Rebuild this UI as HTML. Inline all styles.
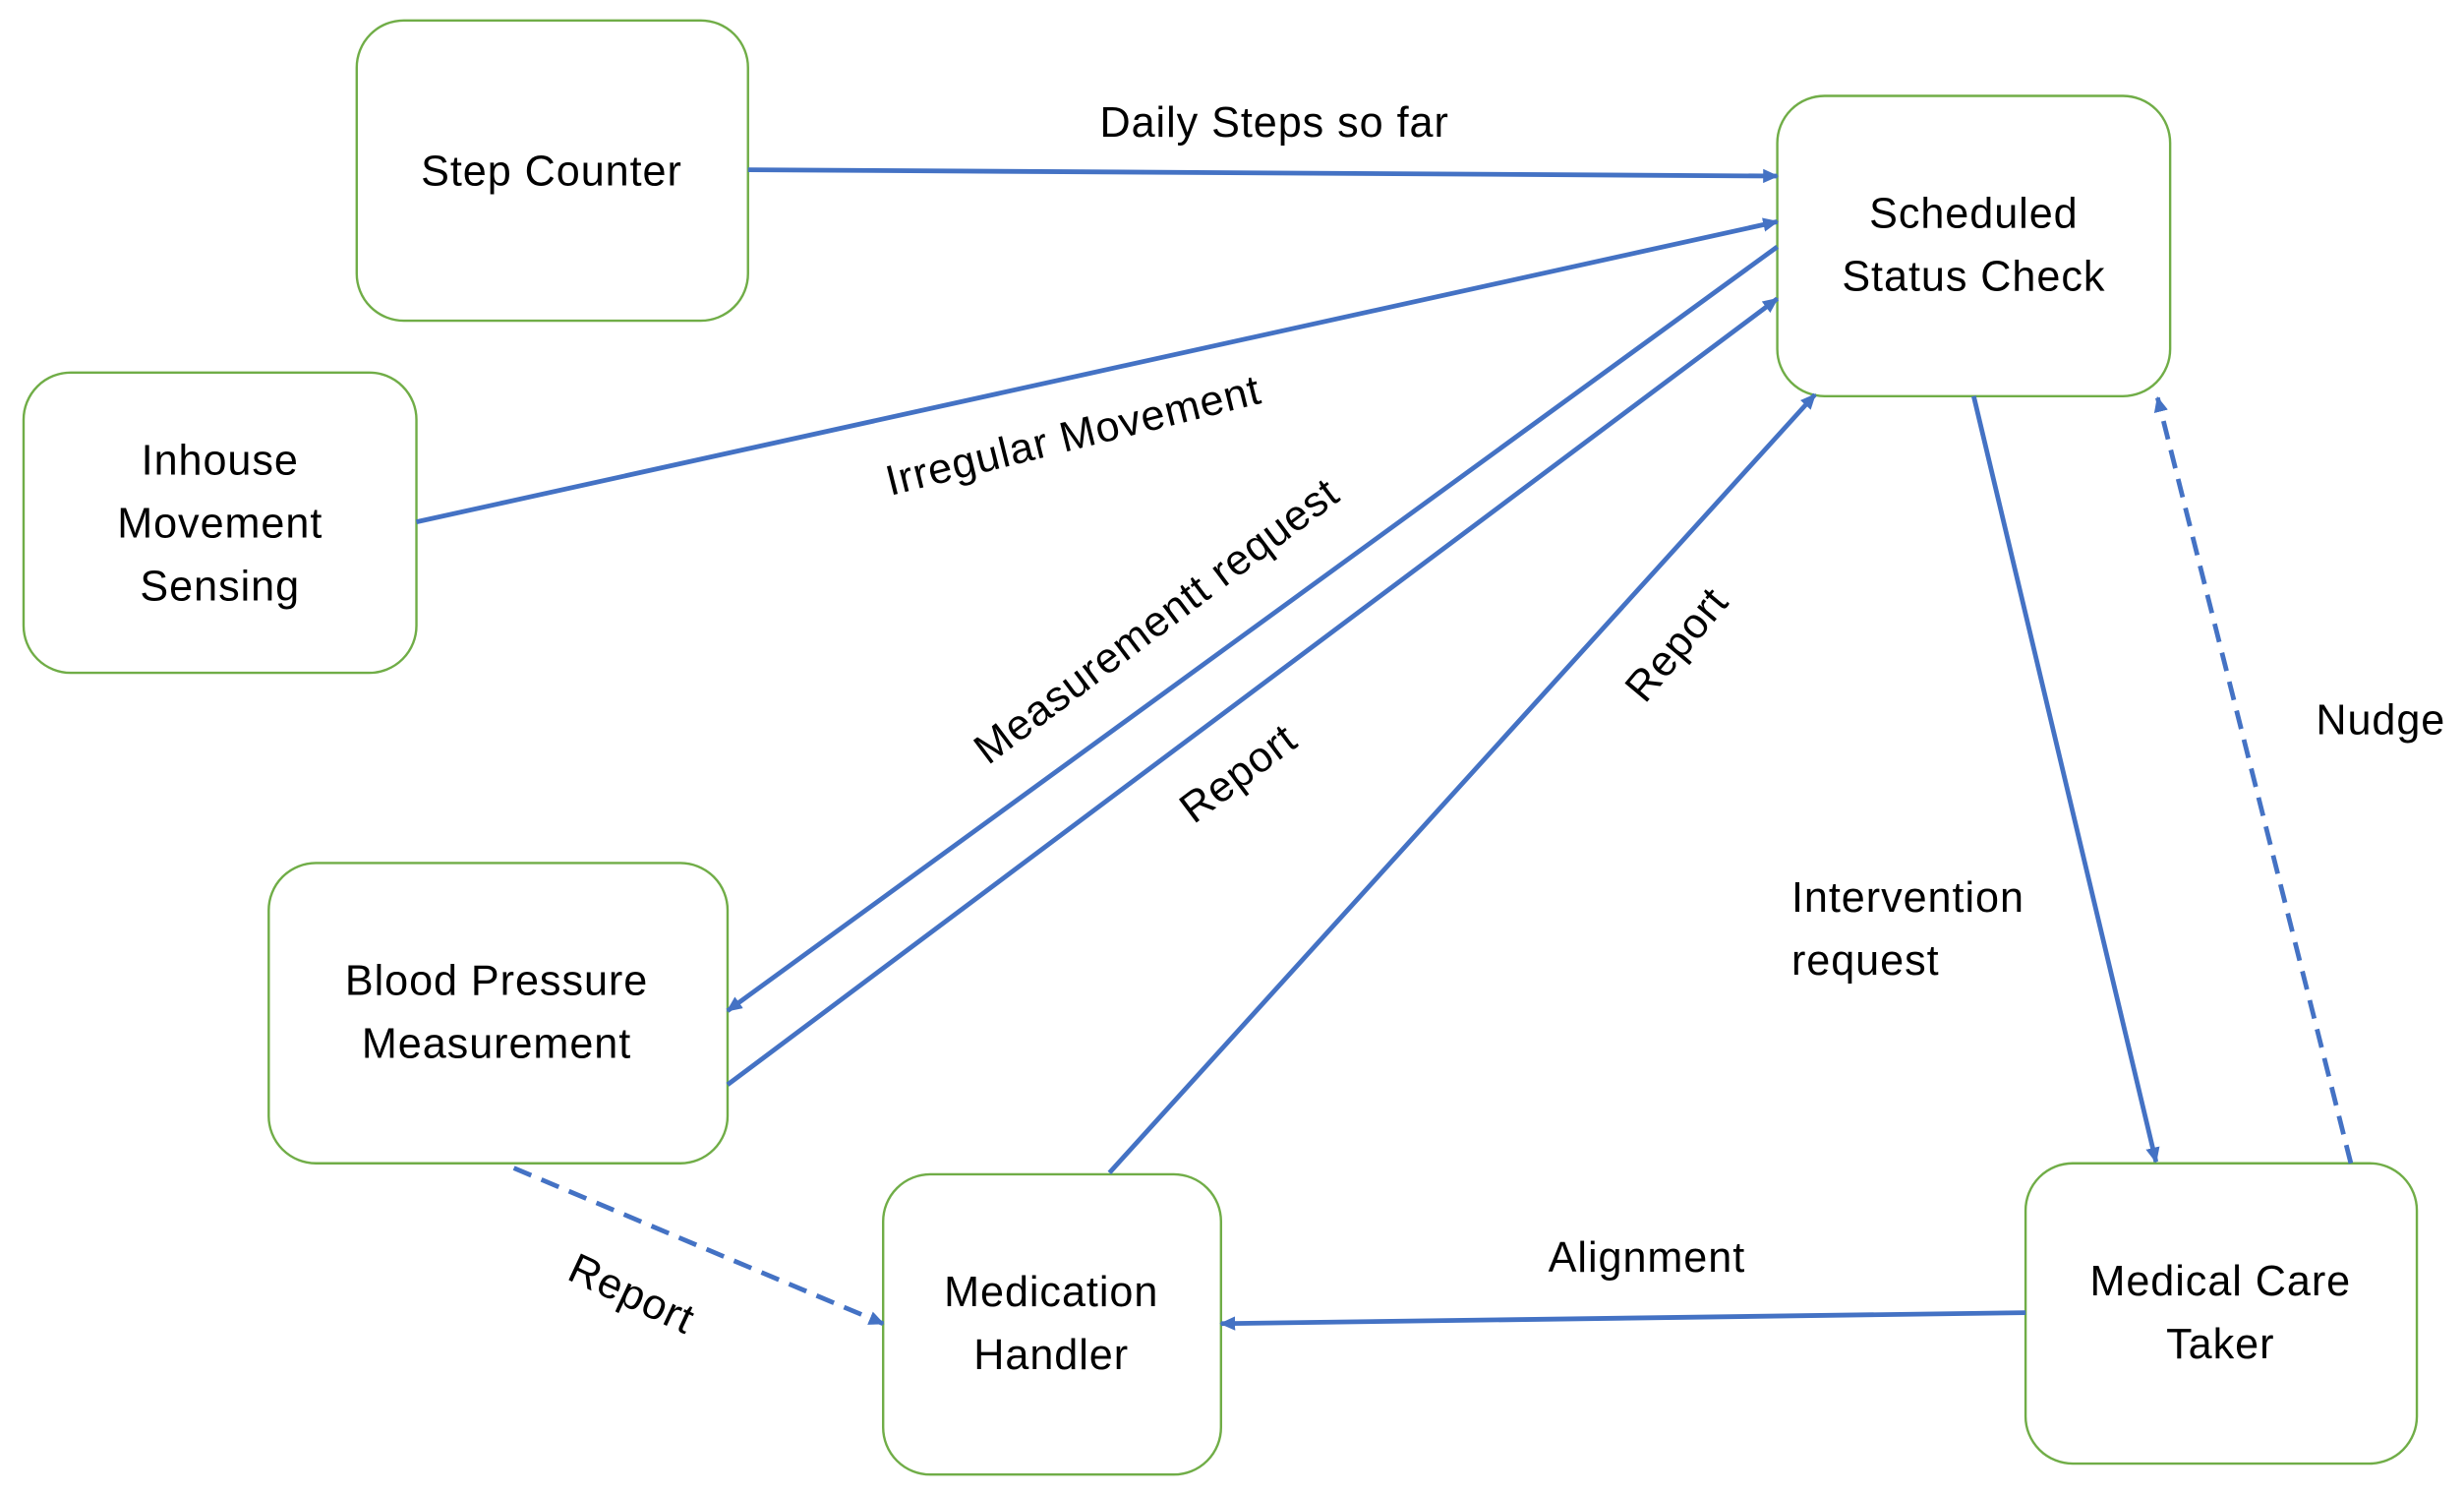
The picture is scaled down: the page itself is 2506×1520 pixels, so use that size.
<!DOCTYPE html>
<html><head><meta charset="utf-8"><style>html,body{margin:0;padding:0;background:#fff}svg{display:block}</style></head>
<body>
<svg width="2506" height="1520" viewBox="0 0 1568 951" preserveAspectRatio="none" xmlns="http://www.w3.org/2000/svg">
<defs>
<marker id="a" markerWidth="10" markerHeight="9" refX="9" refY="4.5" orient="auto" markerUnits="userSpaceOnUse"><path d="M0,0 L10,4.5 L0,9 Z" fill="#4472C4"/></marker>
</defs>
<g fill="#fff" stroke="#70AD47" stroke-width="1.5">
<rect x="227" y="13" width="249" height="191" rx="30"/>
<rect x="15" y="237" width="250" height="191" rx="30"/>
<rect x="1131" y="61" width="250" height="191" rx="30"/>
<rect x="171" y="549" width="292" height="191" rx="30"/>
<rect x="562" y="747" width="215" height="191" rx="30"/>
<rect x="1289" y="740" width="249" height="191" rx="30"/>
</g>
<g stroke="#4472C4" stroke-width="3" fill="none" marker-end="url(#a)">
<line x1="476" y1="108" x2="1131" y2="112"/>
<line x1="265" y1="332" x2="1131" y2="141"/>
<line x1="1131" y1="157" x2="463" y2="643"/>
<line x1="463" y1="690" x2="1131" y2="190"/>
<line x1="706" y1="746" x2="1155" y2="251"/>
<line x1="1256" y1="252" x2="1372" y2="739"/>
<line x1="1496" y1="740" x2="1373" y2="253" stroke-dasharray="12,7"/>
<line x1="1289" y1="835" x2="777" y2="842"/>
<line x1="327" y1="743" x2="562" y2="842" stroke-dasharray="12,7"/>
</g>
<g font-family="Liberation Sans, sans-serif" font-size="27" letter-spacing="0.6" fill="#000" text-anchor="middle">
<text x="351" y="118">Step Counter</text>
<text x="140" y="302">Inhouse</text><text x="140" y="342">Movement</text><text x="140" y="382">Sensing</text>
<text x="1256" y="145">Scheduled</text><text x="1256" y="185">Status Check</text>
<text x="316" y="633">Blood Pressure</text><text x="316" y="673">Measurement</text>
<text x="669" y="831">Medication</text><text x="669" y="871">Handler</text>
<text x="1413" y="824">Medical Care</text><text x="1413" y="864">Taker</text>
<text x="811" y="87">Daily Steps so far</text>
<text x="683" y="286" transform="rotate(-14 683 277)">Irregular Movement</text>
<text x="736" y="404" transform="rotate(-37 736 395)">Measurementt request</text>
<text x="788" y="501" transform="rotate(-37 788 492)">Report</text>
<text x="1067" y="419" transform="rotate(-50 1067 410)">Report</text>
<text x="1515" y="467">Nudge</text>
<text x="1048" y="809">Alignment</text>
<text x="402" y="832" transform="rotate(25 402 823)">Report</text>
<text x="1140" y="580" text-anchor="start">Intervention</text>
<text x="1140" y="620" text-anchor="start">request</text>
</g>
</svg>
</body></html>
